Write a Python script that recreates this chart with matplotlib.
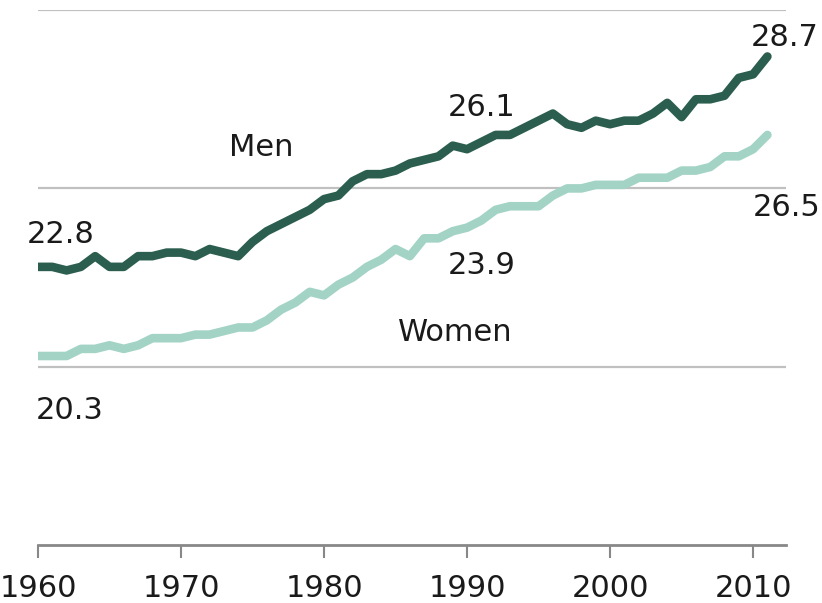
import matplotlib
matplotlib.use("Agg")
import matplotlib.pyplot as plt

# median age at first marriage
years = list(range(1960, 2012))
men = [22.8, 22.8, 22.7, 22.8, 23.1, 22.8, 22.8, 23.1, 23.1, 23.2,
       23.2, 23.1, 23.3, 23.2, 23.1, 23.5, 23.8, 24.0, 24.2, 24.4,
       24.7, 24.8, 25.2, 25.4, 25.4, 25.5, 25.7, 25.8, 25.9, 26.2,
       26.1, 26.3, 26.5, 26.5, 26.7, 26.9, 27.1, 26.8, 26.7, 26.9,
       26.8, 26.9, 26.9, 27.1, 27.4, 27.0, 27.5, 27.5, 27.6, 28.1,
       28.2, 28.7]
women = [20.3, 20.3, 20.3, 20.5, 20.5, 20.6, 20.5, 20.6, 20.8, 20.8,
         20.8, 20.9, 20.9, 21.0, 21.1, 21.1, 21.3, 21.6, 21.8, 22.1,
         22.0, 22.3, 22.5, 22.8, 23.0, 23.3, 23.1, 23.6, 23.6, 23.8,
         23.9, 24.1, 24.4, 24.5, 24.5, 24.5, 24.8, 25.0, 25.0, 25.1,
         25.1, 25.1, 25.3, 25.3, 25.3, 25.5, 25.5, 25.6, 25.9, 25.9,
         26.1, 26.5]
xticks = [1960, 1970, 1980, 1990, 2000, 2010]
grid_vals = [20, 25, 30]

men_color = "#2b5e4e"
women_color = "#a3d3c5"
txt = "#1a1a1a"

fig = plt.figure(figsize=(8.22, 6.03), dpi=100)
ax = fig.add_axes([0.0462, 0.0962, 0.910, 0.887])

for g in grid_vals:
    ax.axhline(g, color="#c0c0c0", lw=1.6, zorder=1)

ax.plot(years, women, color=women_color, lw=6.2, solid_capstyle="round",
        solid_joinstyle="round", zorder=3)
ax.plot(years, men, color=men_color, lw=6.2, solid_capstyle="round",
        solid_joinstyle="round", zorder=3)

ax.set_xlim(1960, 2012.3)
ax.set_ylim(15, 30)
ax.set_xticks(xticks)
ax.set_yticks([])
for s in ["top", "right", "left"]:
    ax.spines[s].set_visible(False)
ax.spines["bottom"].set_color("#888888")
ax.spines["bottom"].set_linewidth(2)
ax.tick_params(axis="x", length=9, width=1.5, color="#888888", pad=12,
               labelsize=22, labelcolor=txt)

fs = 22
def label(x, y, s, dx, dy):
    ax.annotate(s, (x, y), xytext=(dx, dy), textcoords="offset pixels",
                ha="center", va="center", fontsize=fs, color=txt,
                annotation_clip=False)

label(years[0], men[0], "22.8", 23, 32)
label(years[0], women[0], "20.3", 32, -54)
label(1990, men[30], "26.1", 15, 42)
label(1990, women[30], "23.9", 15, -38)
label(years[-1], men[-1], "28.7", 17, 19)
label(years[-1], women[-1], "26.5", 19, -73)

ax.text(1975.6, 26.16, "Men", ha="center", va="center", fontsize=fs, color=txt)
ax.text(1989.2, 20.97, "Women", ha="center", va="center", fontsize=fs, color=txt)

fig.savefig("out.png", dpi=100)
